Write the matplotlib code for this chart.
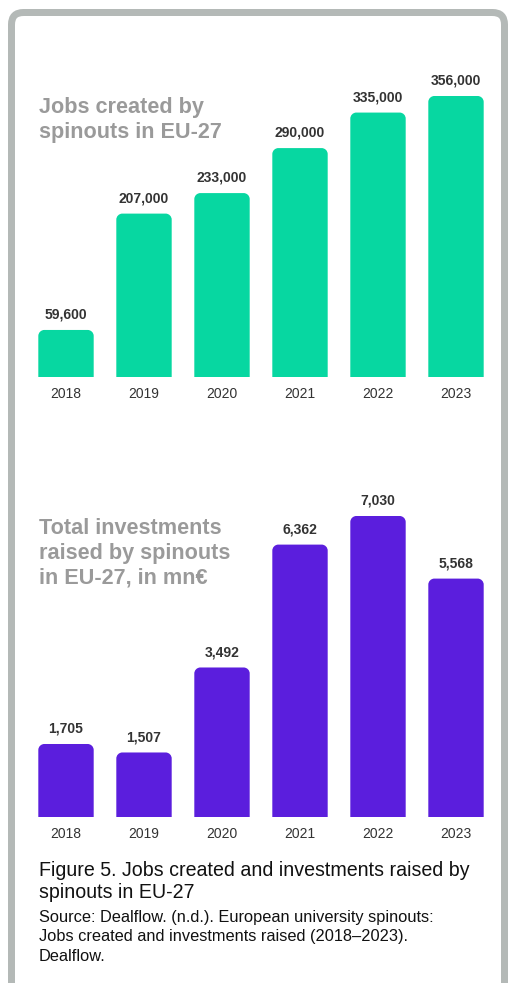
import matplotlib
matplotlib.use('Agg')
import matplotlib.pyplot as plt
from matplotlib.patches import FancyBboxPatch, PathPatch
from matplotlib.path import Path

# ---- data ----
years = ['2018', '2019', '2020', '2021', '2022', '2023']
jobs = [59600, 207000, 233000, 290000, 335000, 356000]
investments = [1705, 1507, 3492, 6362, 7030, 5568]

title_jobs = 'Jobs created by\nspinouts in EU-27'
title_inv = 'Total investments\nraised by spinouts\nin EU-27, in mn€'
caption = 'Figure 5. Jobs created and investments raised by\nspinouts in EU-27'
source = ('Source: Dealflow. (n.d.). European university spinouts:\n'
          'Jobs created and investments raised (2018–2023).\nDealflow.')

GREEN = '#07D7A1'
PURPLE = '#5B1EDD'
TITLE_GRAY = '#9A9A9A'
FRAME_GRAY = '#B4B9B7'
DARK = '#333333'

plt.rcParams['font.family'] = ['Liberation Sans', 'DejaVu Sans']

W, H = 510, 983
fig = plt.figure(figsize=(W / 100, H / 100), dpi=100)
fig.patch.set_facecolor('white')


def fx(px):
    return px / W


def fy(py):
    return 1 - py / H


# frame (display coords, y up)
frame = FancyBboxPatch((11.5, -20), 493, H - 12.5 + 20,
                       boxstyle='round,pad=0,rounding_size=12',
                       transform=None, facecolor='white',
                       edgecolor=FRAME_GRAY, linewidth=7 * 0.72, zorder=0)
fig.add_artist(frame)


def make_axes(top_px, base_px):
    ax = fig.add_axes([fx(27), fy(base_px), fx(495) - fx(27),
                       fy(top_px) - fy(base_px)])
    ax.set_facecolor('none')
    for s in ax.spines.values():
        s.set_visible(False)
    ax.set_yticks([])
    ax.tick_params(axis='x', length=0, pad=7, labelsize=10, labelcolor=DARK)
    ax.set_xlim(-0.5, len(years) - 0.5)
    return ax


def round_top(ax, bars, r_px=6):
    inv = ax.transData.inverted()
    for b in bars:
        x0, y0 = b.get_x(), b.get_y()
        w, h = b.get_width(), b.get_height()
        X0, Y0 = ax.transData.transform((x0, y0))
        X1, Y1 = ax.transData.transform((x0 + w, y0 + h))
        r = min(r_px, (X1 - X0) / 2, Y1 - Y0)
        k = 0.5523 * r
        verts = [(X0, Y0), (X0, Y1 - r), (X0, Y1 - r + k), (X0 + r - k, Y1),
                 (X0 + r, Y1), (X1 - r, Y1), (X1 - r + k, Y1), (X1, Y1 - r + k),
                 (X1, Y1 - r), (X1, Y0), (X0, Y0)]
        codes = [Path.MOVETO, Path.LINETO, Path.CURVE4, Path.CURVE4, Path.CURVE4,
                 Path.LINETO, Path.CURVE4, Path.CURVE4, Path.CURVE4, Path.LINETO,
                 Path.CLOSEPOLY]
        p = PathPatch(Path(inv.transform(verts), codes),
                      facecolor=b.get_facecolor(), edgecolor='none')
        b.set_visible(False)
        ax.add_patch(p)


def draw_chart(ax, values, color, ymax):
    ax.set_ylim(0, ymax)
    x = list(range(len(years)))
    bars = ax.bar(x, values, width=0.71, color=color)
    ax.set_xticks(x)
    ax.set_xticklabels(years)
    round_top(ax, bars)
    for i, v in enumerate(values):
        ax.annotate(f'{v:,}', (i, v), xytext=(0, 11), textcoords='offset points',
                    ha='center', va='center', fontsize=10, fontweight='bold',
                    color=DARK)


ax1 = make_axes(60, 377)
draw_chart(ax1, jobs, GREEN, max(jobs) * (377 - 60) / 281)

ax2 = make_axes(480, 817)
draw_chart(ax2, investments, PURPLE, max(investments) * (817 - 480) / 301)

fig.text(fx(39), fy(120), title_jobs, ha='left', va='center', fontsize=15.6,
         fontweight='bold', color=TITLE_GRAY, linespacing=1.22)
fig.text(fx(39), fy(553), title_inv, ha='left', va='center', fontsize=15.6,
         fontweight='bold', color=TITLE_GRAY, linespacing=1.22)

fig.text(fx(39), fy(882), caption, ha='left', va='center', fontsize=14.1,
         color='#111111', linespacing=1.2)
fig.text(fx(39), fy(937), source, ha='left', va='center', fontsize=11.8,
         color='#111111', linespacing=1.36)

fig.savefig('out.png', dpi=100)
